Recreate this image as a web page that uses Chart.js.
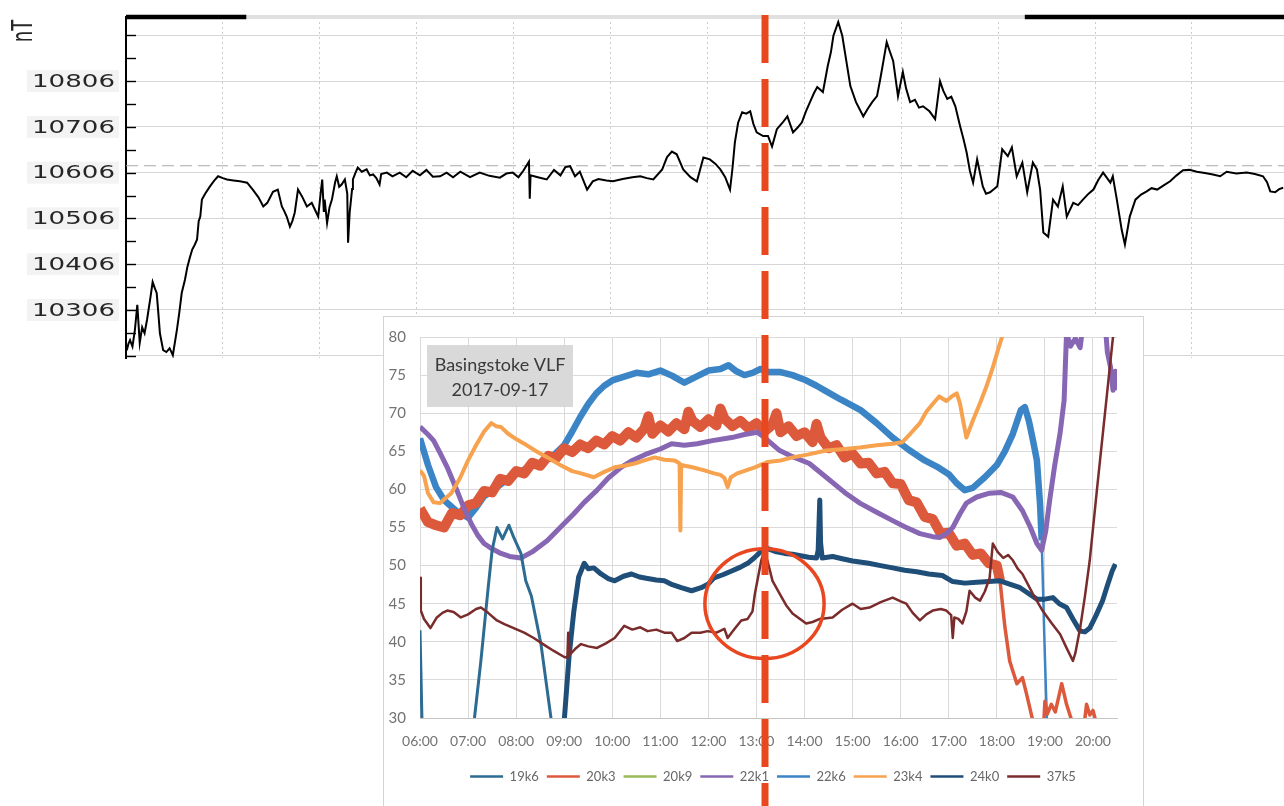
<!DOCTYPE html>
<html>
<head>
<meta charset="utf-8">
<script src="https://cdn.jsdelivr.net/npm/chart.js@4.4.1/dist/chart.umd.min.js"></script>
<style>
  html, body { margin: 0; padding: 0; background: #fff; }
  #wrap { position: relative; width: 1284px; height: 806px; overflow: hidden; }
  #wrap canvas { position: absolute; left: 0; top: 0; }
</style>
</head>
<body>
<div id="wrap">
  <canvas id="mag" width="1284" height="806"></canvas>
  <canvas id="vlf" width="1284" height="806"></canvas>
</div>
<script>
// ---------- Magnetometer (horizontal field, nT) ----------
const magReadings = [
  ["00:01",10218],["00:03",10232],["00:05",10240],["00:08",10226],["00:11",10262],["00:14",10317],["00:17",10234],
  ["00:20",10268],["00:23",10255],["00:26",10284],["00:30",10330],["00:33",10367],["00:36",10352],["00:38",10343],
  ["00:40",10300],["00:42",10255],["00:46",10218],["00:50",10214],["00:54",10222],["00:56",10215],["00:58",10207],
  ["01:03",10262],["01:06",10300],["01:09",10343],["01:13",10372],["01:16",10400],["01:19",10420],["01:22",10438],
  ["01:25",10448],["01:28",10460],["01:30",10500],["01:32",10510],["01:34",10547],["01:38",10560],["01:44",10576],
  ["01:49",10588],["01:54",10598],["02:00",10594],["02:05",10591],["02:13",10589],["02:21",10587],["02:30",10584],
  ["02:37",10569],["02:44",10552],["02:50",10532],["02:55",10540],["03:02",10564],["03:08",10569],["03:13",10532],
  ["03:16",10522],["03:19",10510],["03:23",10488],["03:26",10500],["03:29",10519],["03:33",10569],["03:38",10554],
  ["03:44",10532],["03:50",10540],["03:54",10525],["03:58",10510],["04:01",10560],["04:03",10591],["04:05",10520],
  ["04:06",10547],["04:09",10496],["04:12",10530],["04:15",10547],["04:19",10585],["04:21",10598],["04:24",10575],
  ["04:27",10580],["04:31",10591],["04:34",10560],["04:35",10453],["04:37",10519],["04:40",10570],["04:41",10591],
  ["04:44",10605],["04:47",10617],["04:52",10608],["04:58",10613],["05:02",10600],["05:06",10602],["05:10",10594],
  ["05:14",10580],["05:16",10603],["05:23",10606],["05:30",10598],["05:39",10606],["05:47",10596],["05:55",10610],
  ["06:04",10600],["06:12",10612],["06:20",10597],["06:29",10598],["06:37",10606],["06:45",10596],["06:54",10608],
  ["07:06",10596],["07:18",10606],["07:30",10599],["07:43",10595],["07:51",10604],["07:59",10606],["08:06",10596],
  ["08:12",10610],["08:19",10630],["08:20",10549],["08:21",10600],["08:30",10596],["08:41",10591],["08:50",10612],
  ["08:58",10600],["09:04",10618],["09:10",10620],["09:16",10598],["09:22",10608],["09:31",10569],["09:38",10587],
  ["09:45",10592],["09:55",10589],["10:03",10587],["10:15",10592],["10:27",10596],["10:37",10598],["10:45",10594],
  ["10:53",10591],["11:04",10613],["11:10",10640],["11:16",10652],["11:22",10646],["11:30",10613],["11:39",10596],
  ["11:47",10587],["11:55",10639],["12:03",10635],["12:10",10625],["12:16",10613],["12:22",10596],["12:28",10569],
  ["12:31",10615],["12:34",10672],["12:38",10715],["12:43",10738],["12:48",10735],["12:53",10740],["12:57",10712],
  ["13:01",10694],["13:09",10686],["13:15",10686],["13:20",10663],["13:26",10701],["13:33",10715],["13:39",10729],
  ["13:46",10694],["13:52",10705],["13:57",10716],["14:02",10740],["14:07",10760],["14:12",10780],["14:16",10793],
  ["14:23",10782],["14:29",10839],["14:33",10870],["14:36",10905],["14:42",10935],["14:47",10905],["14:53",10839],
  ["14:57",10795],["15:04",10760],["15:13",10729],["15:18",10744],["15:24",10760],["15:30",10773],["15:34",10810],
  ["15:38",10850],["15:42",10891],["15:46",10870],["15:50",10850],["15:56",10773],["16:02",10826],["16:06",10790],
  ["16:11",10760],["16:17",10765],["16:22",10748],["16:27",10751],["16:35",10740],["16:42",10723],["16:48",10806],
  ["16:52",10785],["16:57",10767],["17:02",10772],["17:07",10751],["17:13",10707],["17:17",10680],["17:21",10650],
  ["17:25",10610],["17:29",10584],["17:34",10635],["17:41",10576],["17:45",10560],["17:50",10563],["17:55",10570],
  ["17:59",10576],["18:05",10657],["18:12",10642],["18:17",10661],["18:23",10598],["18:30",10628],["18:36",10563],
  ["18:43",10628],["18:48",10613],["18:52",10569],["18:56",10475],["19:02",10466],["19:08",10547],["19:14",10532],
  ["19:20",10576],["19:25",10510],["19:33",10540],["19:39",10535],["19:45",10547],["19:52",10560],["19:58",10569],
  ["20:04",10590],["20:10",10606],["20:19",10584],["20:22",10598],["20:27",10547],["20:33",10481],["20:37",10449],
  ["20:43",10510],["20:50",10547],["20:57",10558],["21:04",10565],["21:10",10572],["21:17",10569],["21:25",10578],
  ["21:33",10587],["21:41",10600],["21:49",10611],["21:57",10612],["22:06",10608],["22:16",10605],["22:26",10602],
  ["22:35",10598],["22:43",10608],["22:55",10604],["23:08",10606],["23:18",10603],["23:28",10598],["23:33",10585],
  ["23:37",10565],["23:43",10563],["23:48",10570],["23:53",10573]
];
const magNightSpans = [["00:00","02:29"],["18:33","24:00"]];
const magDaySpans = [["02:29","18:33"]];
const magBaseline = 10621;
const magAxisMin = 10201;
const magAxisMax = 10946;
const magHourMax = 23.9;
const magTickLabels = [10306, 10406, 10506, 10606, 10706, 10806];
const magMinorTicks = [10206,10256,10306,10356,10406,10456,10506,10556,10606,10656,10706,10756,10806,10856,10906];
const magHourGrid = [0,2,4,6,8,10,12,14,16,18,20,22];

// ---------- Basingstoke VLF receiver, 2017-09-17 ----------
const vlfTitle = ["Basingstoke VLF", "2017-09-17"];
const vlfHours = [6,7,8,9,10,11,12,13,14,15,16,17,18,19,20];
const vlfChannels = ["19k6","20k3","20k9","22k1","22k6","23k4","24k0","37k5"];

const ch19k6 = [
  ["06:00",41.5],["06:03",27],["07:05",27],["07:08",30],["07:16",37.5],["07:25",47],["07:30",52],["07:36",55],
  ["07:43",53.5],["07:51",55.3],["07:57",53.7],["08:06",51.6],["08:12",48],["08:19",46],["08:31",39.7],
  ["08:44",29.6],["08:47",27]
];
const ch20k3 = [
  ["06:00",57.5],["06:10",55.7],["06:20",55.3],["06:30",55.0],["06:40",56.9],["06:50",56.6],["07:00",57.9],
  ["07:10",58.2],["07:20",59.8],["07:30",59.6],["07:40",61.4],["07:50",61.1],["08:00",62.4],["08:10",62.1],
  ["08:20",63.5],["08:30",63.1],["08:40",64.4],["08:50",64.1],["09:00",65.4],["09:10",64.9],["09:20",65.9],
  ["09:30",65.4],["09:40",66.4],["09:50",65.9],["10:00",67.0],["10:10",66.4],["10:20",67.5],["10:30",66.8],
  ["10:40",68.0],["10:45",69.6],["10:50",67.3],["11:00",68.4],["11:10",67.6],["11:20",68.7],["11:30",67.9],
  ["11:35",70.2],["11:40",69.0],["11:50",68.2],["12:00",69.2],["12:10",68.4],["12:15",70.6],["12:20",69.3],
  ["12:30",68.3],["12:40",69.0],["12:50",68.0],["13:00",68.7],["13:10",67.6],["13:20",68.5],["13:25",70.0],
  ["13:30",67.5],["13:40",68.3],["13:50",67.0],["14:00",67.5],["14:10",66.2],["14:15",68.6],["14:20",66.8],
  ["14:30",65.4],["14:40",65.8],["14:50",64.2],["15:00",64.7],["15:10",63.4],["15:20",63.5],["15:30",62.1],
  ["15:40",62.3],["15:50",60.8],["16:00",60.7],["16:10",58.6],["16:20",58.3],["16:30",56.4],["16:40",56.1],
  ["16:50",54.2],["17:00",54.3],["17:10",52.6],["17:20",52.9],["17:30",51.4],["17:40",51.6],["17:50",50.3],
  ["18:00",50.0],["18:04",48.0],["18:10",42.0],["18:16",37.5],["18:25",34.5],["18:32",35.3],["18:37",33.2],
  ["18:45",29.6],["18:52",27],["18:58",28],["19:00",32.2],["19:03",30.5],["19:08",31.8],["19:13",30.8],
  ["19:21",34.5],["19:27",31.8],["19:34",29.5],["19:42",27.5],["19:50",30],["19:52",31.8],["19:56",30.4],
  ["20:00",31],["20:05",29],["20:10",27]
];
const ch20k9 = [];
const ch22k1 = [
  ["06:00",68.2],["06:10",67.2],["06:17",66.4],["06:25",64.8],["06:34",62.9],["06:46",59.9],["06:55",57.5],
  ["07:04",55.5],["07:12",54.0],["07:20",52.9],["07:30",52.2],["07:41",51.6],["07:52",51.2],["08:06",51.0],
  ["08:20",51.8],["08:39",53.3],["08:55",55.0],["09:12",56.8],["09:25",58.3],["09:41",59.9],["09:55",61.5],
  ["10:11",62.9],["10:25",63.8],["10:44",64.7],["11:00",65.3],["11:14",66.0],["11:30",65.8],["11:46",66.0],
  ["12:05",66.4],["12:29",66.8],["12:45",67.2],["13:01",67.5],["13:10",66.8],["13:29",65.1],["13:45",64.3],
  ["14:06",63.4],["14:27",61.6],["14:50",59.6],["15:09",58.2],["15:30",57.0],["15:50",55.9],["16:05",55.1],
  ["16:24",54.2],["16:40",53.8],["16:49",53.7],["16:57",54.2],["17:05",55.0],["17:14",56.8],["17:22",58.2],
  ["17:35",59.0],["17:51",59.5],["18:05",59.6],["18:20",59.0],["18:32",57.2],["18:42",55.0],["18:50",52.9],
  ["18:56",52.0],["19:01",54.5],["19:06",58.6],["19:12",63.0],["19:19",67.4],["19:24",71.7],["19:27",80.5],
  ["19:32",78.8],["19:38",79.8],["19:44",78.6],["19:48",82],["20:15",82],["20:18",78],["20:22",76],
  ["20:25",73],["20:28",75.5],["20:30",73]
];
const ch22k6 = [
  ["06:00",66.7],["06:10",63.2],["06:20",60.3],["06:30",58.6],["06:45",57.2],["07:00",56.3],["07:10",57.6],
  ["07:20",59.1],["07:30",59.8],["07:45",61.0],["08:00",62.0],["08:15",62.9],["08:30",63.4],["08:45",64.3],
  ["09:00",65.8],["09:10",67.6],["09:20",69.5],["09:30",71.2],["09:40",72.6],
  ["09:50",73.6],["10:00",74.3],["10:15",74.8],["10:30",75.3],["10:45",75.1],["11:00",75.6],["11:15",74.9],
  ["11:30",74.0],["11:45",74.8],["12:00",75.6],["12:15",75.8],["12:25",76.3],["12:35",75.5],["12:45",75.0],
  ["12:55",75.3],["13:05",75.8],["13:15",75.4],["13:30",75.4],["13:45",75.0],["14:00",74.4],["14:15",73.6],
  ["14:25",73.0],["14:45",71.8],["15:10",70.4],["15:30",68.7],["15:50",66.8],["16:10",65.2],["16:30",63.8],
  ["16:45",63.0],["17:00",62.0],["17:10",60.8],["17:20",59.9],["17:30",60.2],["17:45",61.6],["18:00",63.2],
  ["18:10",65.0],["18:20",67.3],["18:30",70.4],["18:35",70.8],["18:40",69.0],["18:45",66.5],["18:50",63.8],
  ["18:54",58.0],["18:56",53.3],["19:00",38],["19:03",28],["19:06",22]
];
const ch23k4 = [
  ["06:00",62.5],["06:05",61.8],["06:10",59.5],["06:17",58.3],["06:25",58.2],["06:39",59.5],["06:50",61.5],
  ["07:00",63.8],["07:10",65.8],["07:20",67.6],["07:29",68.7],["07:35",68.3],["07:41",68.2],["07:50",67.3],
  ["08:00",66.6],["08:10",66.0],["08:25",65.0],["08:39",64.2],["08:55",63.2],["09:10",62.4],["09:21",62.1],
  ["09:37",61.6],["09:50",62.3],["10:03",62.9],["10:15",63.1],["10:28",63.4],["10:40",63.8],["10:53",64.2],
  ["11:05",63.9],["11:18",63.8],["11:24",63.4],["11:25",54.6],["11:26",63.2],["11:40",62.9],["11:55",62.5],
  ["12:07",62.1],["12:15",61.9],["12:20",61.5],["12:24",60.3],["12:28",61.6],["12:36",62.1],["12:47",62.5],
  ["12:58",62.9],["13:14",63.6],["13:30",63.8],["13:45",64.2],["14:05",64.6],["14:27",65.1],["14:50",65.3],
  ["15:09",65.5],["15:30",65.8],["15:50",66.0],["16:02",66.2],["16:12",67.3],["16:24",68.7],["16:32",70.2],
  ["16:40",71.2],["16:48",72.2],["16:57",71.6],["17:05",72.3],["17:10",72.6],["17:14",71.3],["17:18",69.0],
  ["17:22",66.8],["17:30",69.0],["17:39",71.3],["17:47",73.5],["17:55",76.0],["18:02",78.5],["18:08",80.5],
  ["18:12",82]
];
const ch24k0 = [
  ["08:55",25],["09:00",29.6],["09:06",38],["09:12",44],["09:18",48.5],["09:25",50.3],["09:30",49.6],
  ["09:37",49.7],["09:46",48.9],["09:55",48.3],["10:03",48.0],["10:14",48.6],["10:24",48.9],["10:34",48.5],
  ["10:44",48.3],["10:55",48.1],["11:05",48.0],["11:15",47.5],["11:26",47.1],["11:39",46.7],["11:51",47.1],
  ["12:00",47.6],["12:07",48.4],["12:18",48.8],["12:29",49.3],["12:40",49.8],["12:49",50.3],["12:57",51.0],
  ["13:05",51.8],["13:15",52.2],["13:25",51.8],["13:35",51.6],["13:45",51.5],["13:55",51.3],["14:05",51.1],
  ["14:15",51.0],["14:17",52.0],["14:19",58.6],["14:20",53.0],["14:22",51.0],["14:35",51.2],["14:47",50.9],
  ["15:00",50.6],["15:20",50.3],["15:35",50.0],["15:50",49.7],["16:05",49.4],["16:20",49.2],["16:35",48.9],
  ["16:52",48.7],["17:05",47.9],["17:20",47.7],["17:35",47.8],["17:50",47.9],["18:04",48.0],["18:15",47.6],
  ["18:29",47.1],["18:40",46.3],["18:50",45.6],["19:00",45.6],["19:10",45.8],["19:18",45.0],["19:27",44.5],
  ["19:35",43.0],["19:44",41.4],["19:50",41.3],["19:56",41.8],["20:04",43.5],["20:12",45.4],["20:18",47.4],
  ["20:24",49.3],["20:28",50.2]
];
const ch37k5 = [
  ["06:00",48.4],["06:01",44.1],["06:05",43.0],["06:09",42.4],["06:13",41.8],["06:21",43.2],["06:28",43.8],
  ["06:34",44.1],["06:42",43.9],["06:51",43.2],["07:00",43.6],["07:10",44.3],["07:16",44.5],["07:25",43.8],
  ["07:36",42.8],["07:46",42.3],["07:57",41.8],["08:10",41.2],["08:22",40.5],["08:35",39.6],["08:47",38.8],
  ["09:00",38.0],["09:04",37.9],["09:05",41.2],["09:07",38.3],["09:15",39.2],["09:21",39.7],["09:30",39.4],
  ["09:41",39.2],["09:52",39.8],["10:03",40.5],["10:15",42.1],["10:25",41.6],["10:35",41.9],["10:44",41.4],
  ["10:55",41.6],["11:05",41.2],["11:14",41.2],["11:21",40.1],["11:30",40.5],["11:39",41.2],["11:50",41.2],
  ["11:59",41.4],["12:10",41.2],["12:20",41.7],["12:24",40.5],["12:32",41.6],["12:41",42.8],["12:49",43.0],
  ["12:55",44.0],["12:58",46.3],["13:02",48.5],["13:06",50.7],["13:10",52.0],["13:14",50.5],["13:20",48.0],
  ["13:29",46.3],["13:37",44.8],["13:45",43.7],["14:02",42.4],["14:10",42.6],["14:19",43.0],["14:35",43.2],
  ["14:47",44.2],["15:00",45.0],["15:10",44.3],["15:21",44.5],["15:35",45.2],["15:50",45.8],["16:00",45.3],
  ["16:07",45.0],["16:15",43.8],["16:24",42.8],["16:32",43.6],["16:40",44.1],["16:50",44.3],["16:57",44.1],
  ["17:03",43.5],["17:05",40.5],["17:07",43.2],["17:12",43.0],["17:17",42.4],["17:22",44.0],["17:26",46.7],
  ["17:33",45.8],["17:39",45.4],["17:45",46.6],["17:51",48.4],["17:55",52.9],["18:01",51.8],["18:08",51.0],
  ["18:14",51.4],["18:20",50.7],["18:26",49.6],["18:32",48.9],["18:45",46.3],["18:57",44.1],["19:08",42.5],
  ["19:19",41.0],["19:27",39.2],["19:35",37.5],["19:38",38.5],["19:44",41.8],["19:50",46.0],["19:56",50.7],
  ["20:05",60],["20:15",70],["20:25",80],["20:28",82]
];

// event marker and highlight ring (time, signal level)
const eventTime = "13:11";
const ringCentre = ["13:10", 45.0];
const ringHalfHours = 1.24;
const ringHalfLevel = 7.2;

// ---------- styling ----------
// thinFrom: after this time the trace is drawn with a thin pen (sparse, fast-moving signal)
const channelStyle = {
  "19k6": { color: "#2d6b93", width: 3,   layer: 2 },
  "20k3": { color: "#dc5a3b", width: 10,  layer: 5, thinFrom: "18:04", thinWidth: 3.5 },
  "20k9": { color: "#9bbb59", width: 3,   layer: 7 },
  "22k1": { color: "#8767b3", width: 5,   layer: 4 },
  "22k6": { color: "#3b85c6", width: 6.5, layer: 6, thinFrom: "18:56", thinWidth: 2.5 },
  "23k4": { color: "#f6a24f", width: 4,   layer: 3 },
  "24k0": { color: "#1f4e79", width: 5,   layer: 1 },
  "37k5": { color: "#7a2b2b", width: 2.5, layer: 0 }
};
const channelData = {
  "19k6": ch19k6, "20k3": ch20k3, "20k9": ch20k9, "22k1": ch22k1,
  "22k6": ch22k6, "23k4": ch23k4, "24k0": ch24k0, "37k5": ch37k5
};

const toHours = s => { const [h, m] = s.split(":").map(Number); return h + m / 60; };
const toPoints = rows => rows.map(([t, v]) => ({ x: toHours(t), y: v }));
const spanPoints = (spans, level) => spans.map(([a, b]) => [{ x: toHours(a), y: level }, { x: toHours(b), y: level }]);

// ---------- magnetometer chart ----------
const magDecor = {
  id: "magDecor",
  afterDraw(chart) {
    const { ctx, chartArea: a, scales: { y } } = chart;
    ctx.save();
    // inward tick marks on the value axis
    ctx.strokeStyle = "#000";
    ctx.lineWidth = 1.4;
    y.ticks.forEach(t => {
      const py = Math.round(y.getPixelForValue(t.value)) + 0.5;
      ctx.beginPath(); ctx.moveTo(a.left, py); ctx.lineTo(a.left + 10, py); ctx.stroke();
    });
    // value labels in a wide face
    ctx.font = '18px "DejaVu Sans"';
    ctx.textAlign = "right";
    ctx.textBaseline = "middle";
    magTickLabels.forEach(v => {
      const py = y.getPixelForValue(v);
      const txt = String(v);
      const w = ctx.measureText(txt).width * 1.45;
      ctx.fillStyle = "#f3f3f3";
      ctx.fillRect(a.left - 11 - w - 5, py - 11, w + 9, 22);
      ctx.save();
      ctx.translate(a.left - 11, py + 1);
      ctx.scale(1.45, 1);
      ctx.fillStyle = "#262626";
      ctx.fillText(txt, 0, 0);
      ctx.restore();
    });
    // unit label
    ctx.save();
    ctx.translate(25, a.top + 14);
    ctx.rotate(-Math.PI / 2);
    ctx.scale(1, 1.6);
    ctx.textAlign = "center";
    ctx.fillStyle = "#262626";
    ctx.fillText("nT", 0, 0);
    ctx.restore();
    ctx.restore();
  }
};

const magDatasets = [
  { label: "H", data: toPoints(magReadings), borderColor: "#000", borderWidth: 2, pointRadius: 0, tension: 0, order: 0 },
  { label: "baseline", data: [{ x: 0, y: magBaseline }, { x: 24, y: magBaseline }], borderColor: "#a9a9a9",
    borderWidth: 1, borderDash: [12, 6], pointRadius: 0, order: 1 }
];
spanPoints(magDaySpans, magAxisMax).forEach(p => magDatasets.push(
  { label: "day", data: p, borderColor: "#e0e0e0", borderWidth: 4, pointRadius: 0, clip: false, order: 3 }));
spanPoints(magNightSpans, magAxisMax).forEach(p => magDatasets.push(
  { label: "night", data: p, borderColor: "#000", borderWidth: 4.5, pointRadius: 0, clip: false, order: 2 }));

const magChart = new Chart(document.getElementById("mag"), {
  type: "line",
  data: { datasets: magDatasets },
  options: {
    responsive: false,
    animation: false,
    events: [],
    layout: { padding: { left: 0, top: 17, right: 0, bottom: 448 } },
    plugins: { legend: { display: false }, tooltip: { enabled: false } },
    scales: {
      x: {
        type: "linear", min: 0, max: magHourMax,
        afterBuildTicks: s => { s.ticks = magHourGrid.map(v => ({ value: v })); },
        ticks: { display: false },
        grid: { color: "#cccccc", lineWidth: 1, drawTicks: false },
        border: { display: false, dash: [2, 3] },
        afterFit: s => { s.height = 0; }
      },
      y: {
        min: magAxisMin, max: magAxisMax,
        afterBuildTicks: s => { s.ticks = magMinorTicks.map(v => ({ value: v })); },
        ticks: { display: false },
        grid: { color: c => (c.tick && c.tick.value % 100 === 6) ? "#d6d6d6" : "rgba(0,0,0,0)", drawTicks: false },
        border: { color: "#000", width: 2 },
        afterFit: s => { s.width = 126; }
      }
    }
  },
  plugins: [magDecor]
});

// ---------- VLF chart ----------
const vlfDecor = {
  id: "vlfDecor",
  beforeDraw(chart) {
    const { ctx, chartArea: a } = chart;
    const left = a.left - 37, top = a.top - 21, right = a.right + 26;
    ctx.save();
    ctx.fillStyle = "#fff";
    ctx.fillRect(left, top, right - left, chart.height - top + 2);
    ctx.strokeStyle = "#d3d3d3";
    ctx.lineWidth = 1;
    ctx.strokeRect(left + 0.5, top + 0.5, right - left, chart.height - top + 4);
    ctx.restore();
  },
  beforeDatasetsDraw(chart) {
    const { ctx, chartArea: a } = chart;
    ctx.save();
    ctx.fillStyle = "#d9d9d9";
    ctx.fillRect(a.left + 7, a.top + 8, 146, 62);
    ctx.fillStyle = "#3a3a3a";
    ctx.font = '18px "Lato"';
    ctx.textAlign = "center";
    ctx.textBaseline = "middle";
    ctx.fillText(vlfTitle[0], a.left + 80, a.top + 28);
    ctx.fillText(vlfTitle[1], a.left + 80, a.top + 53);
    ctx.restore();
  },
  afterDatasetsDraw(chart) {
    const { ctx, scales: { x, y } } = chart;
    const cx = x.getPixelForValue(toHours(ringCentre[0]));
    const cy = y.getPixelForValue(ringCentre[1]);
    const rx = Math.abs(x.getPixelForValue(toHours(ringCentre[0]) + ringHalfHours) - cx);
    const ry = Math.abs(y.getPixelForValue(ringCentre[1] + ringHalfLevel) - cy);
    ctx.save();
    ctx.strokeStyle = "#e8471f";
    ctx.lineWidth = 3.5;
    ctx.beginPath();
    ctx.ellipse(cx, cy, rx, ry, 0, 0, Math.PI * 2);
    ctx.stroke();
    ctx.restore();
  },
  afterDraw(chart) {
    const { ctx, scales: { x } } = chart;
    const px = Math.round(x.getPixelForValue(toHours(eventTime)));
    ctx.save();
    ctx.strokeStyle = "#e8471f";
    ctx.lineWidth = 7;
    ctx.setLineDash([48, 16]);
    ctx.beginPath();
    ctx.moveTo(px, magChart.chartArea.top - 2);
    ctx.lineTo(px, chart.height);
    ctx.stroke();
    ctx.restore();
  }
};

new Chart(document.getElementById("vlf"), {
  type: "line",
  data: {
    datasets: vlfChannels.map(name => {
      const st = channelStyle[name];
      const thinFrom = st.thinFrom ? toHours(st.thinFrom) : Infinity;
      return {
        label: name,
        data: toPoints(channelData[name]),
        borderColor: st.color,
        backgroundColor: st.color,
        borderWidth: st.width,
        order: st.layer,
        pointRadius: 0,
        tension: 0,
        borderJoinStyle: "round",
        segment: { borderWidth: c => (c.p0.parsed.x >= thinFrom ? st.thinWidth : undefined) }
      };
    })
  },
  options: {
    responsive: false,
    animation: false,
    events: [],
    layout: { padding: { left: 380, top: 337, right: 118, bottom: 13 } },
    plugins: {
      tooltip: { enabled: false },
      legend: {
        position: "bottom",
        labels: {
          usePointStyle: true,
          pointStyle: "line",
          pointStyleWidth: 33,
          padding: 8,
          color: "#676767",
          font: { family: "Lato", size: 13 },
          sort: (a, b) => a.datasetIndex - b.datasetIndex,
          generateLabels: chart => Chart.defaults.plugins.legend.labels.generateLabels(chart)
            .map(item => Object.assign(item, { lineWidth: 2.5, pointStyle: "line" }))
        }
      }
    },
    scales: {
      x: {
        type: "linear", min: 6, max: 20.5,
        afterBuildTicks: s => { s.ticks = vlfHours.map(h => ({ value: h })); },
        ticks: {
          callback: v => String(v).padStart(2, "0") + ":00",
          font: { family: "Lato", size: 14 }, color: "#737373", padding: 15, maxRotation: 0, autoSkip: false
        },
        grid: { color: "#dadada", drawTicks: false },
        border: { color: "#c4c4c4" },
        afterFit: s => { s.height = 44; }
      },
      y: {
        min: 30, max: 80,
        ticks: { stepSize: 5, font: { family: "Lato", size: 15 }, color: "#737373", padding: 14 },
        grid: { color: "#dadada", drawTicks: false },
        border: { display: false },
        afterFit: s => { s.width = 40; }
      },
      yGutter: {
        position: "right", display: true,
        ticks: { display: false }, grid: { display: false }, border: { display: false },
        afterFit: s => { s.width = 49; }
      }
    }
  },
  plugins: [vlfDecor]
});
</script>
</body>
</html>
